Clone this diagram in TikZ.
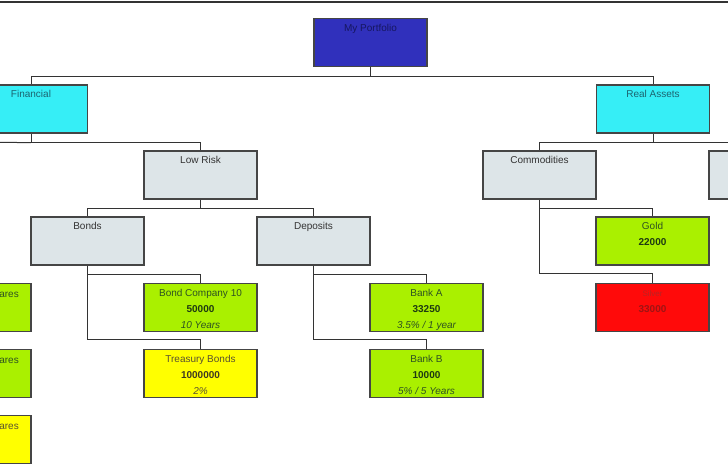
\documentclass[tikz,border=0pt]{standalone}
\usepackage{fontspec}
\setmainfont{Liberation Sans}
\definecolor{boxline}{HTML}{454545}
\definecolor{connc}{HTML}{333333}
\definecolor{navyfill}{HTML}{3030BC}
\definecolor{navytext}{HTML}{161660}
\definecolor{cyanfill}{HTML}{36EEF6}
\definecolor{cyantext}{HTML}{1C6470}
\definecolor{grayfill}{HTML}{DDE5E8}
\definecolor{graytext}{HTML}{333333}
\definecolor{greenfill}{HTML}{AAF000}
\definecolor{greentext}{HTML}{2E5222}
\definecolor{greennum}{HTML}{1E3A12}
\definecolor{yellowfill}{HTML}{FFFF00}
\definecolor{yellowtext}{HTML}{5A5230}
\definecolor{redfill}{HTML}{FF0A0A}
\definecolor{redtext}{HTML}{B82424}
\definecolor{rednum}{HTML}{A01414}
\begin{document}
\begin{tikzpicture}[x=1pt,y=-1pt,font=\fontsize{10}{12}\selectfont,
  box/.style={rectangle,draw=boxline,line width=1.1pt,minimum width=113pt,minimum height=48pt,inner sep=0pt},
  navybox/.style={box,fill=navyfill},
  cyanbox/.style={box,fill=cyanfill},
  graybox/.style={box,fill=grayfill},
  greenbox/.style={box,fill=greenfill},
  yellowbox/.style={box,fill=yellowfill},
  redbox/.style={box,fill=redfill},
  txt/.style={anchor=base,inner sep=0pt},
  conn/.style={draw=connc,line width=1pt}]
\path[use as bounding box] (0,0) rectangle (728,471);
\clip (0,0) rectangle (728,471);
\fill[white] (0,0) rectangle (728,471);
\draw[line width=1.8pt,color=connc] (0,2) -- (728,2);

% boxes
\node[navybox]   (port)   at (370.5,42.5) {};
\node[cyanbox]   (fin)    at (31,109) {};
\node[cyanbox]   (real)   at (653,109) {};
\node[graybox]   (low)    at (200.5,175) {};
\node[graybox]   (comm)   at (539.5,175) {};
\node[graybox]   (rbox)   at (765.5,175) {};
\node[graybox]   (bonds)  at (87.5,241) {};
\node[graybox]   (dep)    at (313.5,241) {};
\node[greenbox]  (gold)   at (652.5,241) {};
\node[greenbox]  (bc)     at (200.5,307.5) {};
\node[yellowbox] (tb)     at (200.5,373.5) {};
\node[greenbox]  (banka)  at (426.5,307.5) {};
\node[greenbox]  (bankb)  at (426.5,373.5) {};
\node[redbox]    (silver) at (652.5,307.5) {};
\node[greenbox]  (sh1)    at (-25.5,307.5) {};
\node[greenbox]  (sh2)    at (-25.5,373.5) {};
\node[yellowbox] (sh3)    at (-25.5,439.5) {};

% texts
\node[txt,text=navytext] (port-t) at ([yshift=-13.5pt]port.north) {My Portfolio};
\node[txt,text=cyantext] (fin-t) at ([yshift=-13.5pt]fin.north) {Financial};
\node[txt,text=cyantext] (real-t) at ([yshift=-13.5pt]real.north) {Real Assets};
\node[txt,text=graytext] (low-t) at ([yshift=-13.5pt]low.north) {Low Risk};
\node[txt,text=graytext] (comm-t) at ([yshift=-13.5pt]comm.north) {Commodities};
\node[txt,text=graytext] (bonds-t) at ([yshift=-13.5pt]bonds.north) {Bonds};
\node[txt,text=graytext] (dep-t) at ([yshift=-13.5pt]dep.north) {Deposits};

\node[txt,text=greentext] (gold-t) at ([yshift=-13.5pt]gold.north) {Gold};
\node[txt,text=greennum,font=\fontsize{10}{12}\selectfont\bfseries] (gold-n) at ([yshift=-29.5pt]gold.north) {22000};

\node[txt,text=greentext] (bc-t) at ([yshift=-13.5pt]bc.north) {Bond Company 10};
\node[txt,text=greennum,font=\fontsize{10}{12}\selectfont\bfseries] (bc-n) at ([yshift=-29.5pt]bc.north) {50000};
\node[txt,text=greentext,font=\fontsize{10}{12}\selectfont\itshape] (bc-i) at ([yshift=-45.5pt]bc.north) {10 Years};

\node[txt,text=yellowtext] (tb-t) at ([yshift=-13.5pt]tb.north) {Treasury Bonds};
\node[txt,text=yellowtext!70!black,font=\fontsize{10}{12}\selectfont\bfseries] (tb-n) at ([yshift=-29.5pt]tb.north) {1000000};
\node[txt,text=yellowtext,font=\fontsize{10}{12}\selectfont\itshape] (tb-i) at ([yshift=-45.5pt]tb.north) {2\%};

\node[txt,text=greentext] (banka-t) at ([yshift=-13.5pt]banka.north) {Bank A};
\node[txt,text=greennum,font=\fontsize{10}{12}\selectfont\bfseries] (banka-n) at ([yshift=-29.5pt]banka.north) {33250};
\node[txt,text=greentext,font=\fontsize{10}{12}\selectfont\itshape] (banka-i) at ([yshift=-45.5pt]banka.north) {3.5\% / 1 year};

\node[txt,text=greentext] (bankb-t) at ([yshift=-13.5pt]bankb.north) {Bank B};
\node[txt,text=greennum,font=\fontsize{10}{12}\selectfont\bfseries] (bankb-n) at ([yshift=-29.5pt]bankb.north) {10000};
\node[txt,text=greentext,font=\fontsize{10}{12}\selectfont\itshape] (bankb-i) at ([yshift=-45.5pt]bankb.north) {5\% / 5 Years};

\node[txt,text=redtext,font=\fontsize{8}{10}\selectfont] (silver-t) at ([yshift=-13.5pt]silver.north) {Silver};
\node[txt,text=rednum,font=\fontsize{10}{12}\selectfont\bfseries] (silver-n) at ([yshift=-29.5pt]silver.north) {33000};

\node[txt,anchor=base east,text=greentext] (sh1-t) at (19,297) {ares};
\node[txt,anchor=base east,text=greentext] (sh2-t) at (19,363) {ares};
\node[txt,anchor=base east,text=yellowtext] (sh3-t) at (19,429) {ares};

% connectors
\coordinate (finleft) at (-120,142);
\draw[conn] (port.south) -- ++(0,9) -| (fin.north);
\draw[conn] (port.south) -- ++(0,9) -| (real.north);
\draw[conn] (fin.south) -- ++(0,9) -| (low.north);
\draw[conn] ([yshift=-9pt]fin.south) -- (finleft);
\draw[conn] (low.south) -- ++(0,9) -| (bonds.north);
\draw[conn] (low.south) -- ++(0,9) -| (dep.north);
\draw[conn] (bonds.south) -- ++(0,9) -| (bc.north);
\draw[conn] (bonds.south) |- ([yshift=9pt]tb.north) -- (tb.north);
\draw[conn] (dep.south) -- ++(0,9) -| (banka.north);
\draw[conn] (dep.south) |- ([yshift=9pt]bankb.north) -- (bankb.north);
\draw[conn] (real.south) -- ++(0,9) -| (comm.north);
\draw[conn] (real.south) -- ++(0,9) -| (rbox.north);
\draw[conn] (comm.south) -- ++(0,9) -| (gold.north);
\draw[conn] (comm.south) |- ([yshift=9pt]silver.north) -- (silver.north);
\end{tikzpicture}
\end{document}
